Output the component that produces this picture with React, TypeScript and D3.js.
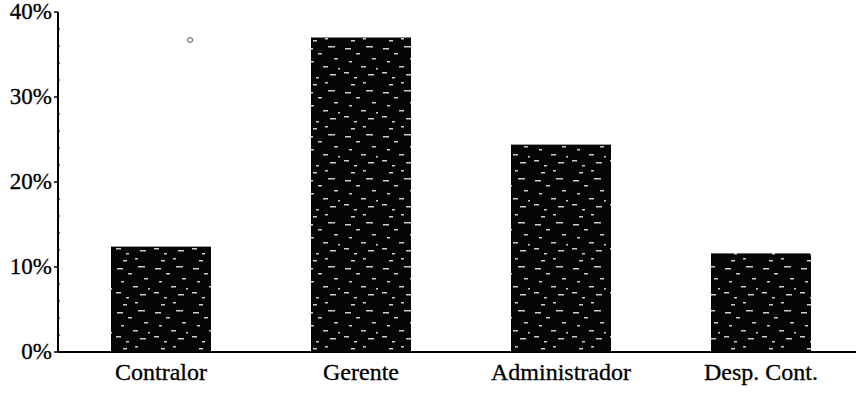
import React from "react";
import * as d3 from "d3";

const categories = ["Contralor", "Gerente", "Administrador", "Desp. Cont."];
const values = [12.4, 37.0, 24.4, 11.6];
const yTicks = [0, 10, 20, 30, 40];
const minorTicks = [2, 4, 6, 8, 12, 14, 16, 18, 22, 24, 26, 28, 32, 34, 36, 38];

const W = 860;
const H = 393;

export default function App() {
  const y = d3.scaleLinear().domain([0, 40]).range([352, 12]);
  const x = d3.scaleBand<string>().domain(categories).range([61, 861]).paddingInner(0.5).paddingOuter(0.25);
  const textStyle = { fontFamily: "Liberation Serif" };
  // deterministic speckle pattern
  const specks: [number, number, number][] = [
    [3, 4, 6], [14, 9, 4], [24, 2, 7], [7, 17, 3], [19, 22, 5], [30, 14, 4],
    [2, 28, 5], [12, 33, 3], [26, 30, 6], [34, 24, 2], [9, 40, 4], [21, 38, 3],
  ];
  return (
    <svg width={W} height={H} style={{ position: "absolute", left: 0, top: 0, background: "#fff" }}>
      <defs>
        <pattern id="speck" width="38" height="44" patternUnits="userSpaceOnUse">
          <rect width="38" height="44" fill="#050505" />
          {specks.map((s, i) => (
            <rect key={i} x={s[0]} y={s[1]} width={s[2]} height={1.5} fill="#ccc" />
          ))}
        </pattern>
      </defs>
      {categories.map((c, i) => (
        <rect key={c} x={x(c)} y={y(values[i])} width={x.bandwidth()} height={y(0) - y(values[i])} fill="url(#speck)" />
      ))}
      <line x1={58} x2={58} y1={y(40)} y2={y(0)} stroke="#000" strokeWidth={2} />
      <line x1={58} x2={856} y1={y(0)} y2={y(0)} stroke="#000" strokeWidth={2} />
      {yTicks.map((t) => (
        <g key={t}>
          <line x1={54} x2={58} y1={y(t)} y2={y(t)} stroke="#000" strokeWidth={1.5} />
          <text x={52} y={y(t) + 7} textAnchor="end" style={textStyle} fontSize={23} fill="#000" stroke="#000" strokeWidth={0.3}>
            {t}%
          </text>
        </g>
      ))}
      {minorTicks.map((t) => (
        <line key={t} x1={58} x2={60} y1={y(t)} y2={y(t)} stroke="#000" strokeWidth={1} />
      ))}
      {categories.map((c) => (
        <text key={c} x={(x(c) as number) + x.bandwidth() / 2} y={380} textAnchor="middle" style={textStyle} fontSize={24} fill="#000" stroke="#000" strokeWidth={0.3}>
          {c}
        </text>
      ))}
      <circle cx={190} cy={40} r={2.5} fill="none" stroke="#555" strokeWidth={1} />
    </svg>
  );
}
